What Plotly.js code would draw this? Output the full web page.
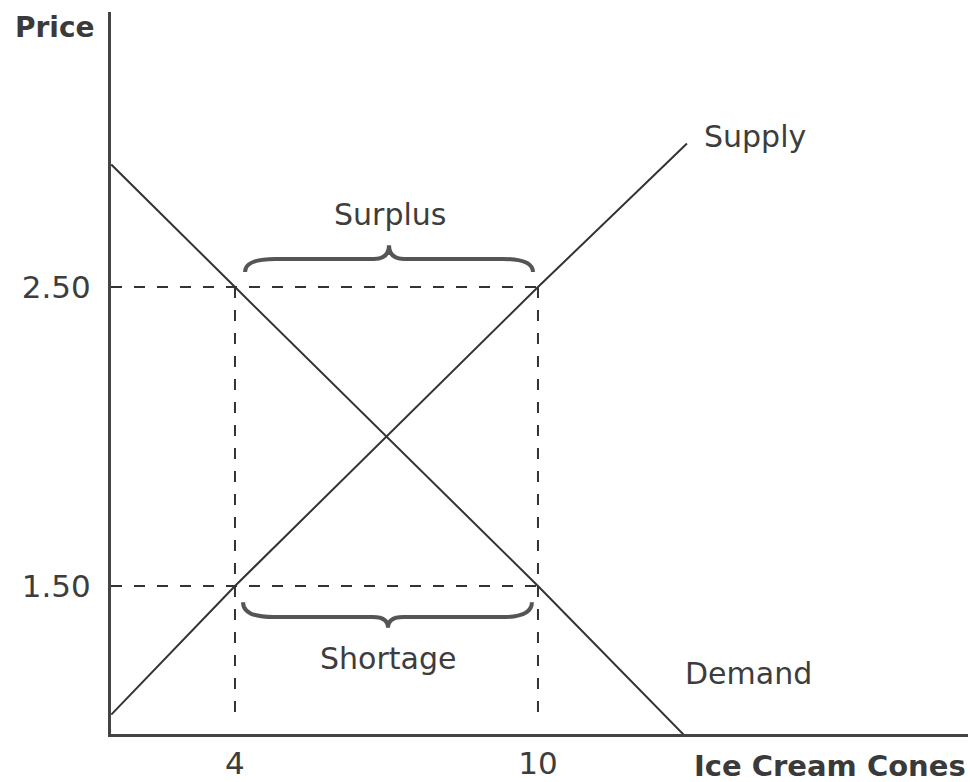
<!DOCTYPE html>
<html>
<head>
<meta charset="utf-8">
<script src="https://cdn.plot.ly/plotly-3.0.1.min.js"></script>
<style>html,body{margin:0;padding:0;background:#fff;}#chart{width:970px;height:782px;}</style>
</head>
<body>
<div id="chart"></div>
<script>
// Data
const demandQ = [1.55, 4, 10, 12.9];
const demandP = [2.91, 2.5, 1.5, 1.0];
const supplyQ = [1.55, 4, 10, 12.95];
const supplyP = [1.07, 1.5, 2.5, 2.98];
const priceHigh = 2.5;   // surplus price
const priceLow = 1.5;    // shortage price
const qLow = 4;
const qHigh = 10;
const xTickVals = [4, 10];
const xTickText = ['4', '10'];
const yTickVals = [1.5, 2.5];
const yTickText = ['1.50', '2.50'];

const X0 = 1.545, X1 = 18.515, Y0 = 1.005, Y1 = 3.42;
const ink = '#333333';
const txt = '#3d3d3d';
const dash = '11px,12px';

const traces = [
  {x: demandQ, y: demandP, mode: 'lines', line: {color: ink, width: 2}, hoverinfo: 'skip'},
  {x: supplyQ, y: supplyP, mode: 'lines', line: {color: ink, width: 2}, hoverinfo: 'skip'},
  {x: [X0, qHigh], y: [priceHigh, priceHigh], mode: 'lines', line: {color: ink, width: 2, dash: dash}, hoverinfo: 'skip'},
  {x: [X0, qHigh], y: [priceLow, priceLow], mode: 'lines', line: {color: ink, width: 2, dash: dash}, hoverinfo: 'skip'},
  {x: [qLow, qLow], y: [priceHigh, 1.04], mode: 'lines', line: {color: ink, width: 2, dash: dash}, hoverinfo: 'skip'},
  {x: [qHigh, qHigh], y: [priceHigh, 1.04], mode: 'lines', line: {color: ink, width: 2, dash: dash}, hoverinfo: 'skip'}
];

function brace(xL, xR, xTip, yEnd, yFlat, yTip, dx, dx2) {
  return 'M ' + xL + ',' + yEnd +
    ' Q ' + xL + ',' + yFlat + ' ' + (xL + dx) + ',' + yFlat +
    ' L ' + (xTip - dx2) + ',' + yFlat +
    ' Q ' + xTip + ',' + yFlat + ' ' + xTip + ',' + yTip +
    ' Q ' + xTip + ',' + yFlat + ' ' + (xTip + dx2) + ',' + yFlat +
    ' L ' + (xR - dx) + ',' + yFlat +
    ' Q ' + xR + ',' + yFlat + ' ' + xR + ',' + yEnd;
}

const shapes = [
  {type: 'path', xref: 'x', yref: 'y', path: brace(4.2, 9.9, 7.05, 2.550, 2.594, 2.640, 0.6, 0.3),
   line: {color: '#555', width: 4}},
  {type: 'path', xref: 'x', yref: 'y', path: brace(4.16, 9.88, 7.03, 1.446, 1.396, 1.360, 0.6, 0.3),
   line: {color: '#555', width: 4}}
];

const f30 = {family: 'DejaVu Sans', size: 30, color: txt};
const fb = {family: 'DejaVu Sans', size: 29, color: '#3a3a3a', weight: 'bold'};

const annotations = [
  {text: 'Surplus', x: 7.07, y: 2.744, xref: 'x', yref: 'y', showarrow: false, font: f30, xanchor: 'center', yanchor: 'middle'},
  {text: 'Shortage', x: 7.03, y: 1.259, xref: 'x', yref: 'y', showarrow: false, font: f30, xanchor: 'center', yanchor: 'middle'},
  {text: 'Supply', x: 13.25, y: 3.005, xref: 'x', yref: 'y', showarrow: false, font: f30, xanchor: 'left', yanchor: 'middle'},
  {text: 'Demand', x: 12.87, y: 1.206, xref: 'x', yref: 'y', showarrow: false, font: f30, xanchor: 'left', yanchor: 'middle'},
  {text: '<b>Price</b>', x: -0.114, y: 0.978, xref: 'paper', yref: 'paper', showarrow: false, font: {family: 'DejaVu Sans', size: 28, color: '#3a3a3a', weight: 'bold'}, xanchor: 'left', yanchor: 'middle'},
  {text: '<b>Ice Cream Cones</b>', x: 1.0, y: -0.0443, xref: 'paper', yref: 'paper', showarrow: false, font: fb, xanchor: 'right', yanchor: 'middle'}
];

const layout = {
  width: 970, height: 782,
  margin: {l: 111, r: 2, t: 12, b: 48},
  paper_bgcolor: '#ffffff', plot_bgcolor: '#ffffff',
  showlegend: false,
  xaxis: {range: [X0, X1], showgrid: false, zeroline: false, showline: true, linecolor: '#444', linewidth: 3,
          tickvals: xTickVals, ticktext: xTickText, ticks: '', tickfont: {family: 'DejaVu Sans', size: 31, color: txt},
          ticklabelstandoff: 0, fixedrange: true},
  yaxis: {range: [Y0, Y1], showgrid: false, zeroline: false, showline: true, linecolor: '#444', linewidth: 3,
          tickvals: yTickVals, ticktext: yTickText, ticks: '', tickfont: {family: 'DejaVu Sans', size: 31, color: txt},
          ticklabelstandoff: 11, fixedrange: true},
  shapes: shapes,
  annotations: annotations
};

Plotly.newPlot('chart', traces, layout, {staticPlot: true, displayModeBar: false});
</script>
</body>
</html>
